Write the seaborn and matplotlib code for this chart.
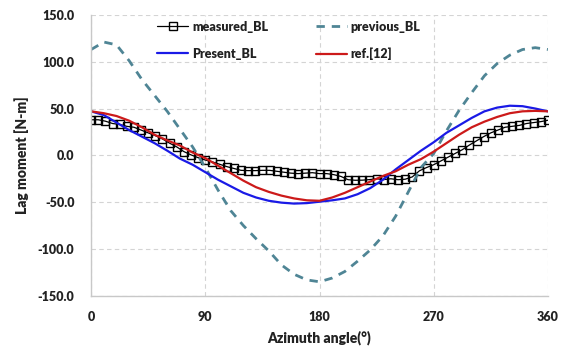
import numpy as np
import pandas as pd
import matplotlib
matplotlib.use("Agg")
import matplotlib.pyplot as plt
import seaborn as sns

# ---- data ----
meas_angle = list(np.arange(0, 360.001, 5.625))
meas_val = [38, 38, 36.5, 34, 33, 31, 30, 27, 24, 21, 17.5, 13, 9, 4, 0.5, -2.5,
            -5, -7, -9.5, -12, -14, -16, -16.3, -16.3, -16, -16, -17, -18, -19, -19.5,
            -19, -18.5, -19.5, -19.5, -20.6, -22.5, -26, -26.6, -26.5, -25.9, -25,
            -25.9, -25, -26, -25.5, -23, -16.5, -13, -10, -6, -2, 2, 6, 11, 15.5, 20,
            24, 27, 30, 31, 32, 34, 35, 36, 37.5]

curve_angle = list(range(0, 361, 10))
previous_val = [113, 121, 118, 101, 81, 64, 47, 28, 9, -13, -37, -59, -75, -89, -102,
                -117, -127, -133, -135, -131, -124, -113, -101, -86, -65, -39, -13, 2,
                26, 48, 67, 85, 98, 107, 113, 115, 113]
present_val = [47, 43, 35, 27, 20, 13, 5, -3.5, -10, -18, -26, -33, -40, -45, -48.5,
               -50.5, -51.5, -51, -49.5, -48, -46, -41.5, -35, -26, -15, -5, 5, 14, 24,
               32, 40, 47, 51, 53, 52.5, 50, 47]
ref12_val = [47, 45, 42, 37, 30, 22, 16, 10.5, 3, -3, -11, -19, -27, -34, -39, -43,
             -46, -48, -48.5, -45, -40, -34, -28, -22, -17, -10, -4, 4, 13, 22, 30, 36,
             41, 45, 47, 47.5, 47]

x_ticks = [0, 90, 180, 270, 360]
y_ticks = [-150, -100, -50, 0, 50, 100, 150]

sns.set_style("white")
plt.rcParams['font.family'] = ['Lato', 'DejaVu Sans']
plt.rcParams['font.weight'] = 'bold'

fig = plt.figure(figsize=(5.66, 3.46), dpi=100)
ax = fig.add_axes([0.161, 0.145, 0.807, 0.812])

sns.lineplot(x=meas_angle, y=meas_val, ax=ax, color='black', lw=0.9, marker='s',
             markersize=5.8, markerfacecolor='none', markeredgecolor='black',
             markeredgewidth=1.0, label='measured_BL')
sns.lineplot(x=curve_angle, y=previous_val, ax=ax, color='#4f8595', lw=2.0,
             dashes=(3, 2.5), label='previous_BL')
sns.lineplot(x=curve_angle, y=present_val, ax=ax, color='#1a1ae6', lw=1.6,
             label='Present_BL')
sns.lineplot(x=curve_angle, y=ref12_val, ax=ax, color='#cc1a1a', lw=1.6,
             label='ref.[12]')

ax.set_xlim(0, 360)
ax.set_ylim(-150, 150)
ax.set_xticks(x_ticks)
ax.set_yticks(y_ticks)
ax.set_yticklabels([f"{v:.1f}" for v in y_ticks])
ax.tick_params(axis='both', length=0, labelsize=9, colors='#222222')
ax.tick_params(axis='x', pad=11)
ax.tick_params(axis='y', pad=12)
for lab in ax.get_xticklabels() + ax.get_yticklabels():
    lab.set_fontweight('heavy')

ax.grid(True, color='#d4d4d4', ls=(0, (4, 3)), lw=0.8)
for s in ['top', 'right']:
    ax.spines[s].set_visible(False)
for s in ['left', 'bottom']:
    ax.spines[s].set_color('#c8c8c8')
    ax.spines[s].set_linewidth(1.0)

ax.set_xlabel('Azimuth angle(°)', fontsize=10, fontweight='heavy', color='#222222', labelpad=5)
ax.set_ylabel('Lag moment [N-m]', fontsize=10, fontweight='heavy', color='#222222', labelpad=6)

h, l = ax.get_legend_handles_labels()
order = [0, 2, 1, 3]
leg = ax.legend([h[i] for i in order], [l[i] for i in order], ncol=2,
                loc='upper left', bbox_to_anchor=(0.12, 1.02), frameon=False,
                fontsize=9, handlelength=2.5, labelspacing=1.2, columnspacing=3.8,
                handletextpad=0.3)
for t in leg.get_texts():
    t.set_fontweight('heavy')
    t.set_color('#222222')

fig.savefig('out.png', dpi=100)
